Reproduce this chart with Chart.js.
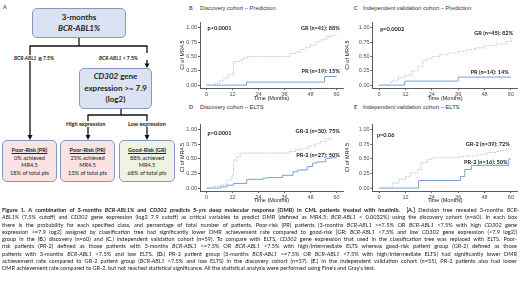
<!DOCTYPE html>
<html lang="en">
<head>
<meta charset="UTF-8">
<title>Figure 1 - 3-months BCR-ABL1% and CD302</title>
<script src="https://cdn.jsdelivr.net/npm/chart.js"></script>
<style>
  html, body { margin: 0; padding: 0; background: #fff; }
  body { width: 520px; height: 293px; position: relative; overflow: hidden; font-family: Lato, "Open Sans", sans-serif; color: #222; }
  .box { position: absolute; box-sizing: border-box; border: 1px solid #8797c4; border-radius: 5px; text-align: center; display: flex; flex-direction: column; justify-content: center; }
  .top { background: #dbe2f1; font-weight: 700; font-size: 8px; line-height: 11.5px; }
  .leaf { font-size: 5.6px; line-height: 7.5px; }
  .leaf b { text-decoration: underline; }
  .pink { background: #fbe3e4; }
  .green { background: #eef3e3; }
  .branch { position: absolute; font-size: 5px; font-weight: 700; background: #fff; white-space: nowrap; line-height: 6px; }
  .ptitle { position: absolute; font-family: "Liberation Sans", Arial, sans-serif; font-size: 5.8px; color: #333; white-space: nowrap; line-height: 7px; }
  .plet { position: absolute; font-size: 5.5px; font-weight: 700; color: #555; line-height: 7px; }
  canvas { position: absolute; }
  #caption { position: absolute; left: 2px; top: 206px; width: 516px; font-size: 5.6px; line-height: 7.3px; }
  #caption div { white-space: nowrap; }
  #caption .l { display: inline-block; transform-origin: 0 0; }
</style>
</head>
<body>

<!-- A: decision tree -->
<div class="plet" style="left:3px; top:4px;">A</div>
<svg width="200" height="200" style="position:absolute; left:0; top:0;">
  <g stroke="#111" stroke-width="1.3" fill="none">
    <line x1="79" y1="38" x2="79" y2="46"/>
    <line x1="29.5" y1="46" x2="147.5" y2="46"/>
    <line x1="30" y1="46" x2="30" y2="136"/>
    <line x1="147" y1="46" x2="147" y2="53"/>
    <line x1="147" y1="60" x2="147" y2="64"/>
    <line x1="121" y1="109" x2="121" y2="115"/>
    <line x1="87.5" y1="115" x2="147.5" y2="115"/>
    <line x1="88" y1="115" x2="88" y2="136"/>
    <line x1="147" y1="115" x2="147" y2="136"/>
  </g>
  <g fill="#111">
    <polygon points="27.5,135 32.5,135 30,140"/>
    <polygon points="144.5,63.5 149.5,63.5 147,68"/>
    <polygon points="85.5,135 90.5,135 88,140"/>
    <polygon points="144.5,135 149.5,135 147,140"/>
  </g>
</svg>
<div class="box top" style="left:32px; top:8px; width:94px; height:30px;">
  <div>3-months</div><div><i>BCR-ABL1%</i></div>
</div>
<div class="branch" style="left:14px; top:55px;"><i>BCR-ABL1</i> ≧ 7.5%</div>
<div class="branch" style="left:99px; top:55px;"><i>BCR-ABL1</i> &lt; 7.5%</div>
<div class="box top" style="left:79px; top:68px; width:73px; height:41px;">
  <div><i>CD302</i> gene</div><div>expression &gt;= 7.9</div><div>(log2)</div>
</div>
<div class="branch" style="left:66px; top:121px; font-size:5.5px;">High expression</div>
<div class="branch" style="left:128px; top:121px; font-size:5.5px;">Low expression</div>
<div class="box leaf pink" style="left:2px; top:140px; width:55px; height:42px;">
  <div><b>Poor-Risk (PR)</b></div><div>0% achieved</div><div>MR4.5</div><div>18% of total pts</div>
</div>
<div class="box leaf pink" style="left:60px; top:140px; width:55px; height:42px;">
  <div><b>Poor-Risk (PR)</b></div><div>25% achieved</div><div>MR4.5</div><div>13% of total pts</div>
</div>
<div class="box leaf green" style="left:119px; top:140px; width:56px; height:42px;">
  <div><b>Good-Risk (GR)</b></div><div>88% achieved</div><div>MR4.5</div><div>68% of total pts</div>
</div>

<!-- B-E: cumulative incidence panels -->
<div class="plet" style="left:189px; top:5px;">B</div>
<div class="ptitle" style="left:200px; top:5px;">Discovery cohort – Prediction</div>
<div class="plet" style="left:354px; top:5px;">C</div>
<div class="ptitle" style="left:363px; top:5px;">Independent validation cohort – Prediction</div>
<div class="plet" style="left:189px; top:104px;">D</div>
<div class="ptitle" style="left:200px; top:104px;">Discovery cohort – ELTS</div>
<div class="plet" style="left:354px; top:104px;">E</div>
<div class="ptitle" style="left:363px; top:104px;">Independent validation cohort – ELTS</div>

<canvas id="chartB" width="172" height="92" style="left:174px; top:14px; width:172px; height:92px;"></canvas>
<canvas id="chartC" width="180" height="92" style="left:340px; top:14px; width:180px; height:92px;"></canvas>
<canvas id="chartD" width="172" height="92" style="left:174px; top:116px; width:172px; height:92px;"></canvas>
<canvas id="chartE" width="180" height="92" style="left:340px; top:116px; width:180px; height:92px;"></canvas>

<div id="caption">
  <div><span class="l"><b>Figure 1. A combination of 3-months <i>BCR-ABL1%</i> and <i>CD302</i> predicts 5-yrs deep molecular response (DMR) in CML patients treated with imatinib.</b> &nbsp;<b>[A.]</b> Decision tree revealed 3-months <i>BCR-</i></span></div>
  <div><span class="l"><i>ABL1%</i> (7.5% cutoff) and <i>CD302</i> gene expression (log2 7.9 cutoff) as critical variables to predict DMR (defined as MR4.5; <i>BCR-ABL1</i> &lt; 0.0032%) using the discovery cohort (n=60). In each box</span></div>
  <div><span class="l">there is the probability for each specified class, and percentage of total number of patients. Poor-risk (PR) patients (3-months <i>BCR-ABL1</i> &gt;=7.5% OR <i>BCR-ABL1</i> &lt;7.5% with high <i>CD302</i> gene</span></div>
  <div><span class="l">expression &gt;=7.9 log2] assigned by classification tree had significantly lower DMR achievement rate compared to good-risk [GR; <i>BCR-ABL1</i> &lt;7.5% and low <i>CD302</i> gene expression (&lt;7.9 log2))</span></div>
  <div><span class="l">group in the (<b>B.</b>) discovery (n=60) and (<b>C.</b>) independent validation cohort (n=59). To compare with ELTS, <i>CD302</i> gene expression that used in the classification tree was replaced with ELTS. Poor-</span></div>
  <div><span class="l">risk patients (PR-2) defined as those patients with 3-months <i>BCR-ABL1</i> &gt;=7.5% OR <i>BCR-ABL1</i> &lt;7.5% with high/intermediate ELTS whereas good-risk patient group (GR-2) defined as those</span></div>
  <div><span class="l">patients with 3-months <i>BCR-ABL1</i> &lt;7.5% and low ELTS. (<b>D.</b>) PR-2 patient group (3-months <i>BCR-ABL1</i> &gt;=7.5% OR <i>BCR-ABL1</i> &lt;7.5% with high/intermediate ELTS) had significantly lower DMR</span></div>
  <div><span class="l">achievement rate compared to GR-2 patient group (<i>BCR-ABL1</i> &lt;7.5% and low ELTS) in the discovery cohort (n=57). (<b>E.</b>) In the independent validation cohort (n=55), PR-2 patients also had lower</span></div>
  <div><span class="l" data-last="1">DMR achievement rate compared to GR-2, but not reached statistical significance. All the statistical analysis were performed using Fine's and Gray's test.</span></div>
</div>

<script>
// axis ticks
const xTicks = [0, 12, 24, 36, 48, 60];
const yTicks = [0, 0.25, 0.5, 0.75, 1];

// B. discovery cohort - prediction
const bGrMonths = [0, 4, 6, 8, 10, 12.5, 15.5, 17, 19, 38.5, 41, 43.5, 46, 48, 50.5, 53, 55.5, 58, 60];
const bGrCif    = [0, 0.03, 0.07, 0.12, 0.18, 0.41, 0.44, 0.47, 0.50, 0.55, 0.58, 0.62, 0.66, 0.70, 0.76, 0.80, 0.85, 0.87, 0.88];
const bPrMonths = [0, 18.5, 54.5, 60];
const bPrCif    = [0, 0.053, 0.15, 0.15];

// C. independent validation cohort - prediction
const cGrMonths = [0, 5.6, 8.7, 11.7, 14.8, 17.8, 20, 21.6, 24, 27.5, 31.5, 36, 40, 43.7, 48, 53.6, 58, 60];
const cGrCif    = [0, 0.07, 0.13, 0.17, 0.25, 0.33, 0.42, 0.46, 0.50, 0.53, 0.56, 0.59, 0.62, 0.65, 0.69, 0.72, 0.76, 0.82];
const cPrMonths = [0, 11.7, 36, 60];
const cPrCif    = [0, 0.07, 0.14, 0.14];

// D. discovery cohort - ELTS
const dGrMonths = [0, 3.3, 6.4, 9.4, 11.7, 12.5, 14, 15.5, 38, 41, 44, 47, 50, 52.5, 55, 57.5];
const dGrCif    = [0, 0.03, 0.05, 0.14, 0.22, 0.48, 0.54, 0.60, 0.63, 0.66, 0.68, 0.72, 0.76, 0.80, 0.84, 0.86];
const dPrMonths = [0, 6.4, 9.4, 12.5, 18.6, 26, 28, 35, 40, 42, 46.5, 49, 51, 55, 57, 60];
const dPrCif    = [0, 0.02, 0.05, 0.08, 0.15, 0.17, 0.18, 0.22, 0.28, 0.31, 0.37, 0.43, 0.45, 0.51, 0.52, 0.52];

// E. independent validation cohort - ELTS
const eGrMonths = [0, 6, 9, 12, 14.3, 17.4, 19, 22, 24, 35.5, 40, 44.6, 49, 53.6, 58, 60];
const eGrCif    = [0, 0.09, 0.15, 0.20, 0.26, 0.32, 0.44, 0.49, 0.52, 0.54, 0.55, 0.58, 0.61, 0.64, 0.67, 0.72];
const ePrMonths = [0, 18, 37, 39, 42, 59, 60];
const ePrCif    = [0, 0.13, 0.20, 0.32, 0.39, 0.50, 0.50];

// in-plot labels: text, month, cif, align
const bNotes = [['p<0.0001', 0.5, 1.0, 'left'], ['GR (n=41): 88%', 61.5, 1.0, 'right'], ['PR (n=19): 15%', 61.5, 0.24, 'right']];
const cNotes = [['p=0.0002', 0.5, 0.98, 'left'], ['GR (n=45): 82%', 61, 0.9, 'right'], ['PR (n=14): 14%', 59, 0.23, 'right']];
const dNotes = [['p=0.0001', 0.5, 0.95, 'left'], ['GR-2 (n=30): 75%', 61.5, 0.97, 'right'], ['PR-2 (n=27): 50%', 61.5, 0.57, 'right']];
const eNotes = [['p=0.06', -1, 0.91, 'left'], ['GR-2 (n=39): 72%', 59.5, 0.76, 'right'], ['PR-2 (n=16): 50%', 58.5, 0.45, 'right']];

const GR_COLOR = '#b3c3e6';
const PR_COLOR = '#7d9dd6';
const tickFont = { family: '"Liberation Sans", Arial, sans-serif', size: 5.5 };

const notePlugin = {
    id: 'notes',
    afterDatasetsDraw(chart, args, opts) {
        const ctx = chart.ctx;
        const x = chart.scales.x, y = chart.scales.y;
        ctx.save();
        ctx.font = 'bold 5.6px Lato, "Open Sans", sans-serif';
        ctx.fillStyle = '#222';
        ctx.textBaseline = 'middle';
        opts.items.forEach(function(n) {
            ctx.textAlign = n[3];
            ctx.fillText(n[0], x.getPixelForValue(n[1]), y.getPixelForValue(n[2]));
        });
        ctx.restore();
    }
};

function pts(months, cif) {
    return months.map((m, i) => ({ x: m, y: cif[i] }));
}

function drawPanel(id, grM, grC, prM, prC, notes, cfg) {
    new Chart(document.getElementById(id), {
        type: 'line',
        data: {
            datasets: [
                { data: pts(grM, grC), stepped: true, borderColor: GR_COLOR, borderWidth: 1.1, borderDash: [1.2, 1.2], pointRadius: 0, fill: false },
                { data: pts(prM, prC), stepped: true, borderColor: PR_COLOR, borderWidth: 1, pointRadius: 0, fill: false }
            ]
        },
        options: {
            responsive: false,
            animation: false,
            devicePixelRatio: 1,
            layout: { padding: { top: 8, right: cfg.right, left: 0, bottom: 0 } },
            plugins: { legend: { display: false }, tooltip: { enabled: false }, notes: { items: notes } },
            scales: {
                x: {
                    type: 'linear', min: -3, max: 63,
                    afterBuildTicks: s => { s.ticks = xTicks.map(v => ({ value: v })); },
                    afterFit: s => { s.height = cfg.xh; },
                    grid: { display: true, drawOnChartArea: false, tickLength: 2, color: '#333', lineWidth: 0.8 },
                    border: { display: true, color: '#333', width: 0.8 },
                    ticks: { font: tickFont, color: '#4d4d4d', padding: 1, maxRotation: 0, autoSkip: false },
                    title: { display: true, text: 'Time (Months)', font: tickFont, color: '#222', padding: { top: 0, bottom: cfg.xtp } }
                },
                y: {
                    min: -0.05, max: 1.1,
                    afterBuildTicks: s => { s.ticks = yTicks.map(v => ({ value: v })); },
                    afterFit: s => { s.width = cfg.yw; },
                    grid: { display: true, drawOnChartArea: false, tickLength: 2, color: '#333', lineWidth: 0.8 },
                    border: { display: true, color: '#333', width: 0.8 },
                    ticks: { font: tickFont, color: '#4d4d4d', padding: 1, autoSkip: false, callback: v => v.toFixed(2) },
                    title: { display: true, text: 'CI of MR4.5', font: tickFont, color: '#222', padding: { top: cfg.ytp, bottom: 0 } }
                }
            }
        },
        plugins: [notePlugin]
    });
}

drawPanel('chartB', bGrMonths, bGrCif, bPrMonths, bPrCif, bNotes, { right: 3, xh: 18, yw: 26, xtp: 4.2, ytp: 4.7 });
drawPanel('chartC', cGrMonths, cGrCif, cPrMonths, cPrCif, cNotes, { right: 2.5, xh: 18, yw: 32.5, xtp: 4.2, ytp: 3.7 });
drawPanel('chartD', dGrMonths, dGrCif, dPrMonths, dPrCif, dNotes, { right: 3, xh: 17, yw: 26, xtp: 4.7, ytp: 4.7 });
drawPanel('chartE', eGrMonths, eGrCif, ePrMonths, ePrCif, eNotes, { right: 2.5, xh: 17, yw: 32.5, xtp: 4.7, ytp: 3.7 });

// stretch caption lines to the full width (justified block)
document.querySelectorAll('#caption .l').forEach(function(el) {
    const target = 515;
    const w = el.getBoundingClientRect().width;
    if (w > target) {
        el.style.transform = 'scaleX(' + (target / w) + ')';
    } else if (!el.dataset.last) {
        const spaces = (el.textContent.match(/ /g) || []).length;
        el.style.wordSpacing = ((target - w) / spaces) + 'px';
    }
});
</script>
</body>
</html>
